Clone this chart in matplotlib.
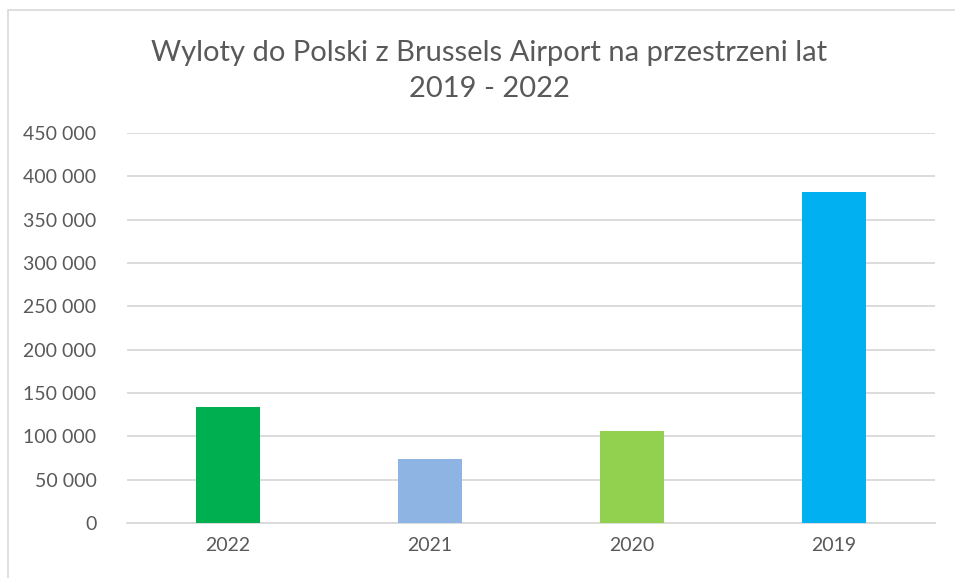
import matplotlib.pyplot as plt
from matplotlib.patches import Rectangle
from matplotlib.ticker import FuncFormatter

plt.rcParams['font.family'] = ['Lato', 'DejaVu Sans']

lata = ['2022', '2021', '2020', '2019']
wyloty = [134000, 74000, 106000, 382000]
kolory = ['#00B050', '#8EB4E3', '#92D050', '#00B0F0']

fig = plt.figure(figsize=(9.55, 5.78), dpi=100)
ax = fig.add_axes([0.133, 0.095, 0.846, 0.675])

ax.bar(lata, wyloty, width=0.316, color=kolory, zorder=3)
ax.set_ylim(0, 450000)
ax.set_xlim(-0.5, 3.5)
ax.set_yticks(range(0, 450001, 50000))
ax.yaxis.set_major_formatter(FuncFormatter(lambda v, p: f'{int(v):,}'.replace(',', ' ')))
ax.grid(axis='y', color='#D9D9D9', linewidth=1.3, zorder=0)
for s in ['top', 'right', 'left']:
    ax.spines[s].set_visible(False)
ax.spines['bottom'].set_color('#D9D9D9')
ax.spines['bottom'].set_linewidth(1.3)
ax.tick_params(axis='both', length=0, labelsize=14, colors='#595959', pad=10)
ax.tick_params(axis='y', pad=22)

fig.text(0.512, 0.877, 'Wyloty do Polski z Brussels Airport na przestrzeni lat\n2019 - 2022',
         ha='center', va='center', fontsize=21, color='#595959', linespacing=1.45)

fig.patches.append(Rectangle((8 / 955, -0.1), 1.1, 1 - 10 / 578 + 0.1, transform=fig.transFigure,
                             fill=False, edgecolor='#D9D9D9', linewidth=1.2))

plt.savefig('out.png')
